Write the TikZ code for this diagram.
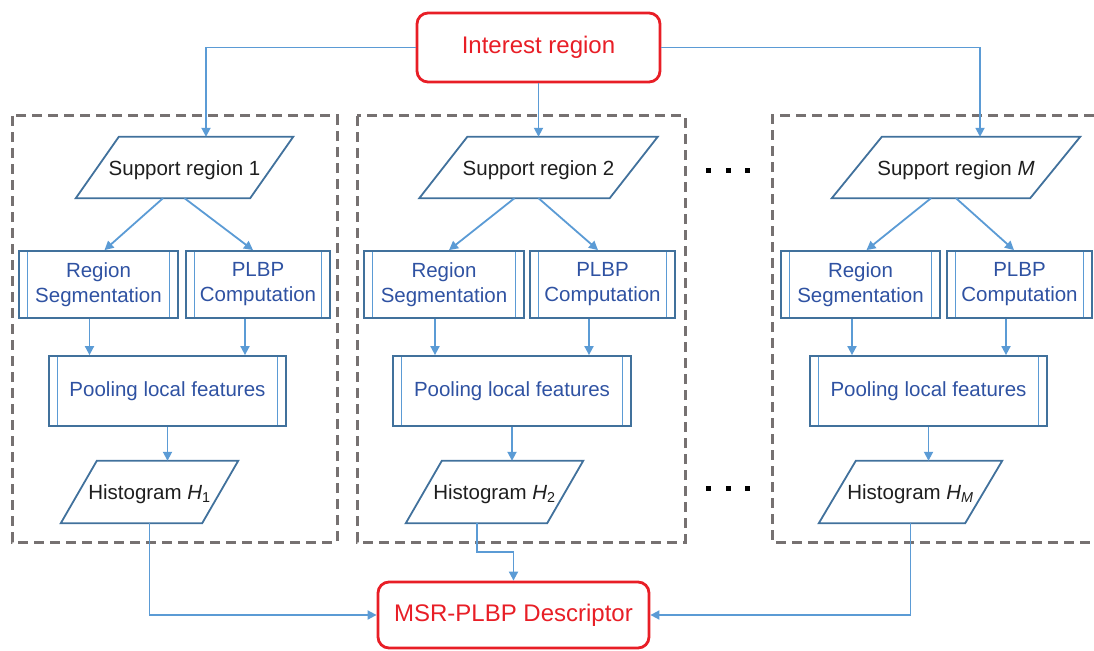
\documentclass[tikz,border=0pt]{standalone}
\usepackage{fontspec}
\setmainfont{Liberation Sans}
\usetikzlibrary{calc,arrows.meta}
\definecolor{lblue}{HTML}{5B9BD5}
\definecolor{dblue}{HTML}{41719C}
\definecolor{tblue}{RGB}{47,82,162}
\definecolor{myred}{RGB}{232,30,38}
\definecolor{dgray}{RGB}{118,113,113}
\definecolor{txt}{RGB}{30,30,30}
\newcommand{\fsn}{\fontsize{20.5}{25}\selectfont}
\newcommand{\fsb}{\fontsize{24}{28}\selectfont}
\begin{document}
\begin{tikzpicture}[x=1pt,y=-1pt,
  conn/.style={draw=lblue,line width=1.8pt},
  arr/.style={conn,-{Triangle[width=9pt,length=9pt]}},
  term/.style={draw=myred,line width=2.8pt,rounded corners=11pt,text=myred,font=\fsb,inner sep=0pt},
  para/.style={inner sep=0pt,minimum height=61pt,text=txt,font=\fsn,text height=20pt,text depth=4.3pt},
  pshape/.style={draw=dblue,line width=1.8pt,line join=miter},
  sub/.style={draw=dblue,line width=1.8pt,text=tblue,align=center,inner sep=0pt,font=\fsn,
    path picture={\draw[lblue,line width=1.5pt]
      ([xshift=8.5pt]path picture bounding box.north west) -- ([xshift=8.5pt]path picture bounding box.south west)
      ([xshift=-8.5pt]path picture bounding box.north east) -- ([xshift=-8.5pt]path picture bounding box.south east);}},
  frame/.style={draw=dgray,line width=3pt,dash pattern=on 10pt off 6pt}
]
\useasboundingbox (0,0) rectangle (1094,650);

% dashed group frames
\draw[frame] (12,116) rectangle (337,542);
\draw[frame] (357,116) rectangle (685,542);
\draw[frame] (1094,116) -- (772,116) -- (772,542) -- (1094,542);

% top and bottom terminals
\node[term,minimum width=243pt,minimum height=69pt] (ir) at (538.5,47.5) {Interest region};
\node[term,minimum width=271pt,minimum height=66pt,fill=white] (ms) at (513.5,615) {MSR-PLBP Descriptor};

% column 1
\node[para,minimum width=217pt] (s1) at (184.5,167.5) {Support region 1};
\node[sub,minimum width=159pt,minimum height=67pt] (rs1) at (98.5,284.5) {Region\\Segmentation};
\node[sub,minimum width=144pt,minimum height=67pt] (pl1) at (258,284.5) {PLBP\\Computation};
\node[sub,minimum width=237pt,minimum height=70pt] (po1) at (167.5,391) {Pooling local features};
\node[para,minimum width=177pt,minimum height=62pt] (h1) at (149.5,492) {Histogram {\itshape H}\textsubscript{1}};

% column 2
\node[para,minimum width=238pt] (s2) at (538.5,167.5) {Support region 2};
\node[sub,minimum width=160pt,minimum height=67pt] (rs2) at (444,284.5) {Region\\Segmentation};
\node[sub,minimum width=145pt,minimum height=67pt] (pl2) at (602.5,284.5) {PLBP\\Computation};
\node[sub,minimum width=238pt,minimum height=70pt] (po2) at (512,391) {Pooling local features};
\node[para,minimum width=177pt,minimum height=62pt] (h2) at (494.5,492) {Histogram {\itshape H}\textsubscript{2}};

% column M
\node[para,minimum width=248pt] (sm) at (956,167.5) {Support region {\itshape M}};
\node[sub,minimum width=159pt,minimum height=67pt] (rsm) at (860.5,284.5) {Region\\Segmentation};
\node[sub,minimum width=145pt,minimum height=67pt] (plm) at (1019.5,284.5) {PLBP\\Computation};
\node[sub,minimum width=237pt,minimum height=70pt] (pom) at (928.5,391) {Pooling local features};
\node[para,minimum width=183pt,minimum height=62pt] (hm) at (910.5,492) {Histogram {\itshape H}\textsubscript{\itshape M}};

% parallelogram outlines
\foreach \n/\s in {s1/43,s2/48,sm/50,h1/36,h2/36,hm/37}
  \draw[pshape] ($(\n.north west)+(\s,0)$) -- (\n.north east) -- ($(\n.south east)-(\s,0)$) -- (\n.south west) -- cycle;

% ellipsis dots
\foreach \x in {708,728,747}{
  \fill[black] (\x-2.5,170-2.5) rectangle (\x+2.5,170+2.5);
  \fill[black] (\x-2.5,488-2.5) rectangle (\x+2.5,488+2.5);
}

% connectors from interest region
\draw[arr] (ir.west) -| ([xshift=21.5pt]s1.north);
\draw[arr] (ir.south) -- (s2.north);
\draw[arr] (ir.east) -| ([xshift=24pt]sm.north);

% column 1 connectors
\draw[arr] ([xshift=-21.5pt]s1.south) -- ([xshift=6pt]rs1.north);
\draw[arr] (s1.south) -- ([xshift=-5pt]pl1.north);
\draw[arr] ([xshift=-9pt]rs1.south) -- ([xshift=-9pt]rs1.south |- po1.north);
\draw[arr] ([xshift=-13pt]pl1.south) -- ([xshift=-13pt]pl1.south |- po1.north);
\draw[arr] (po1.south) -- (po1.south |- h1.north);

% column 2 connectors
\draw[arr] ([xshift=-24pt]s2.south) -- ([xshift=5pt]rs2.north);
\draw[arr] (s2.south) -- ([xshift=-4.5pt]pl2.north);
\draw[arr] ([xshift=-9pt]rs2.south) -- ([xshift=-9pt]rs2.south |- po2.north);
\draw[arr] ([xshift=-13.5pt]pl2.south) -- ([xshift=-13.5pt]pl2.south |- po2.north);
\draw[arr] (po2.south) -- (po2.south |- h2.north);

% column M connectors
\draw[arr] ([xshift=-25pt]sm.south) -- ([xshift=6pt]rsm.north);
\draw[arr] (sm.south) -- ([xshift=-5.5pt]plm.north);
\draw[arr] ([xshift=-8.5pt]rsm.south) -- ([xshift=-8.5pt]rsm.south |- pom.north);
\draw[arr] ([xshift=-13.5pt]plm.south) -- ([xshift=-13.5pt]plm.south |- pom.north);
\draw[arr] (pom.south) -- (pom.south |- hm.north);

% connectors to descriptor
\draw[arr] (h1.south) |- (ms.west);
\draw[arr] ([xshift=-17.5pt]h2.south) -- ++(0,29) -| (ms.north);
\draw[arr] (hm.south) |- (ms.east);
\end{tikzpicture}
\end{document}
